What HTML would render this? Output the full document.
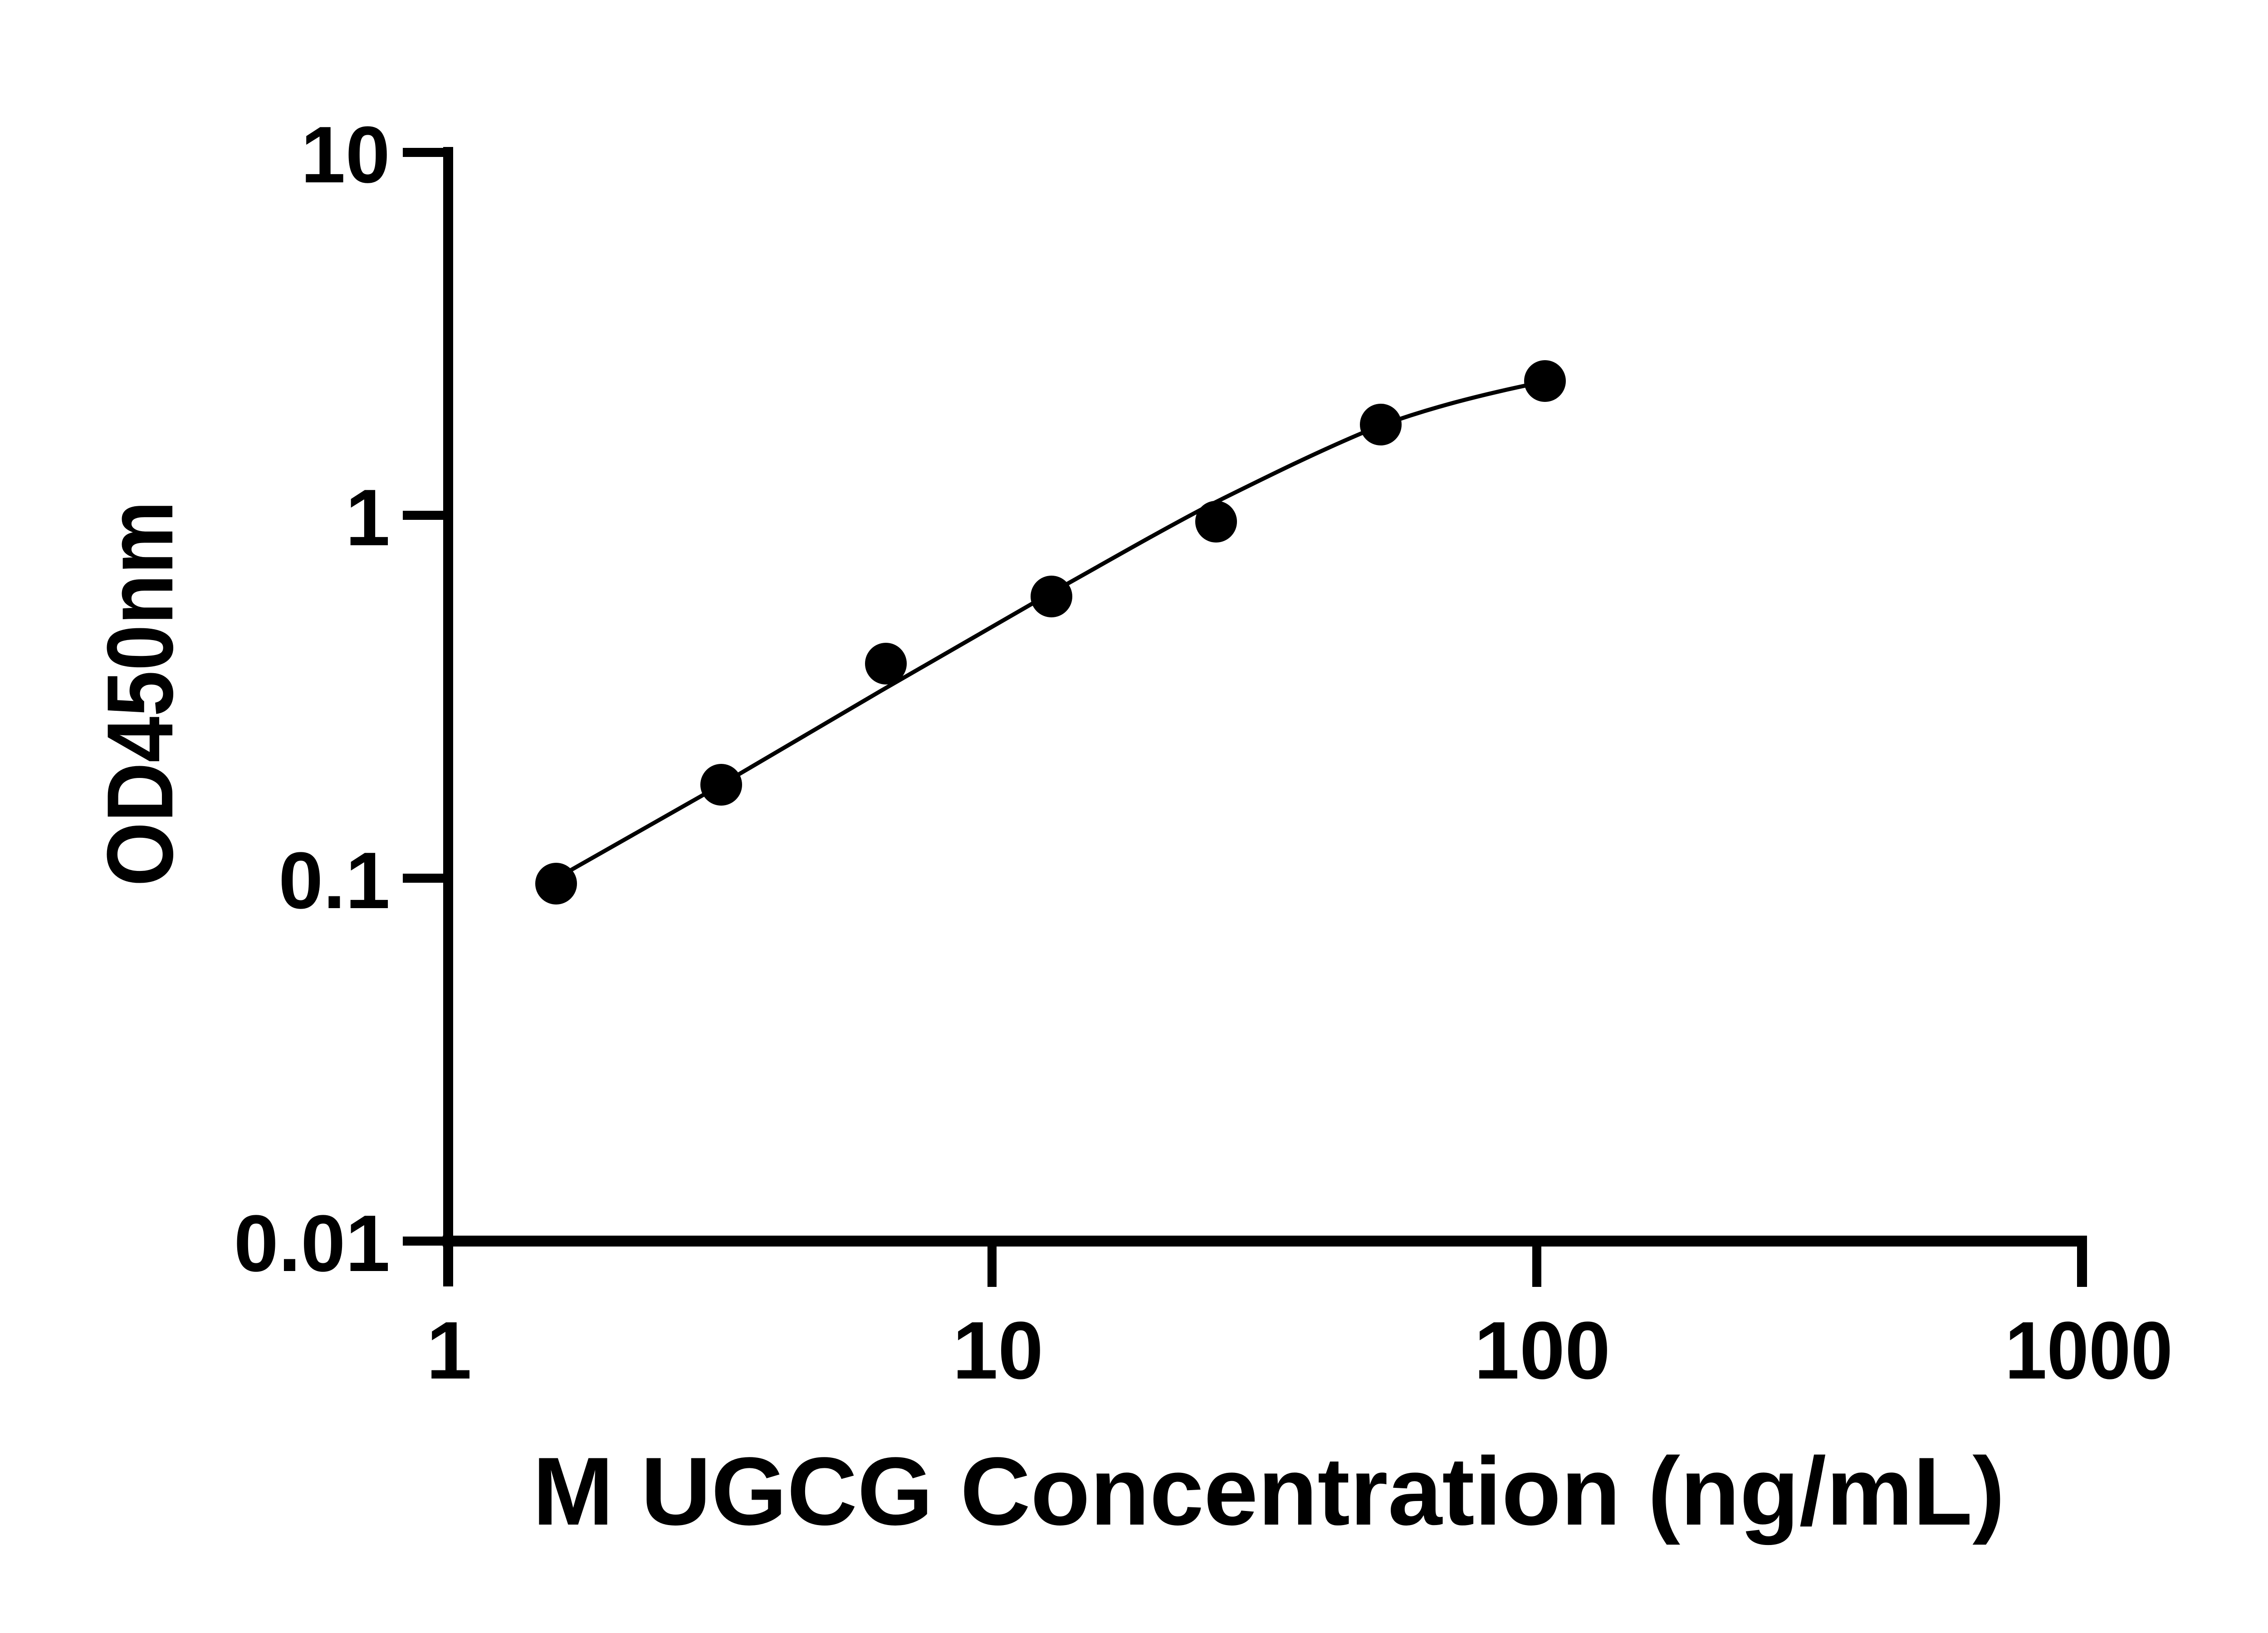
<!DOCTYPE html>
<html><head><meta charset="utf-8"><style>html,body{margin:0;padding:0;background:#fff}svg{display:block}</style></head>
<body>
<svg width="5142" height="3600" viewBox="0 0 5142 3600" xmlns="http://www.w3.org/2000/svg" font-family="Liberation Sans, Arial, sans-serif" font-weight="bold">
<rect width="5142" height="3600" fill="#fff"/>
<g stroke="#000" fill="none">
<line x1="988" y1="324" x2="988" y2="2836" stroke-width="22"/>
<line x1="976" y1="2736" x2="4601" y2="2736" stroke-width="24"/>
<line x1="888" y1="336" x2="988" y2="336" stroke-width="20"/>
<line x1="888" y1="1136" x2="988" y2="1136" stroke-width="20"/>
<line x1="888" y1="1936" x2="988" y2="1936" stroke-width="20"/>
<line x1="888" y1="2736" x2="988" y2="2736" stroke-width="20"/>
<line x1="2187" y1="2736" x2="2187" y2="2837" stroke-width="20"/>
<line x1="3388" y1="2736" x2="3388" y2="2837" stroke-width="20"/>
<line x1="4590" y1="2736" x2="4590" y2="2837" stroke-width="22"/>
<path d="M1220,1940 C1340,1872 1460,1804 1581,1735 C1700,1666 1820,1594 1942,1523 C2060,1455 2180,1385 2303,1315 C2420,1250 2540,1180 2664,1115 C2785,1055 2905,995 3026,945 C3146,900 3266,870 3387,845" stroke-width="9"/>
</g>
<g fill="#000">
<circle cx="1226" cy="1948" r="46"/>
<circle cx="1590" cy="1730" r="46"/>
<circle cx="1953" cy="1463" r="46"/>
<circle cx="2318" cy="1315" r="46"/>
<circle cx="2681" cy="1150" r="46"/>
<circle cx="3044" cy="936" r="46"/>
<circle cx="3406" cy="840" r="46"/>
</g>
<g font-size="177" text-anchor="end" fill="#000">
<text x="860" y="402">10</text>
<text x="860" y="1202">1</text>
<text x="860" y="2002">0.1</text>
<text x="860" y="2802">0.01</text>
</g>
<g font-size="180" text-anchor="middle" fill="#000">
<text x="990" y="3039">1</text>
<text x="2200" y="3039">10</text>
<text x="3400" y="3039">100</text>
<text x="4605" y="3039" textLength="370" lengthAdjust="spacingAndGlyphs">1000</text>
</g>
<text x="1174" y="3361" font-size="213" textLength="3246" lengthAdjust="spacingAndGlyphs" fill="#000">M UGCG Concentration (ng/mL)</text>
<text transform="translate(380,1954) rotate(-90)" font-size="207" textLength="850" lengthAdjust="spacingAndGlyphs" fill="#000">OD450nm</text>
</svg>
</body></html>
